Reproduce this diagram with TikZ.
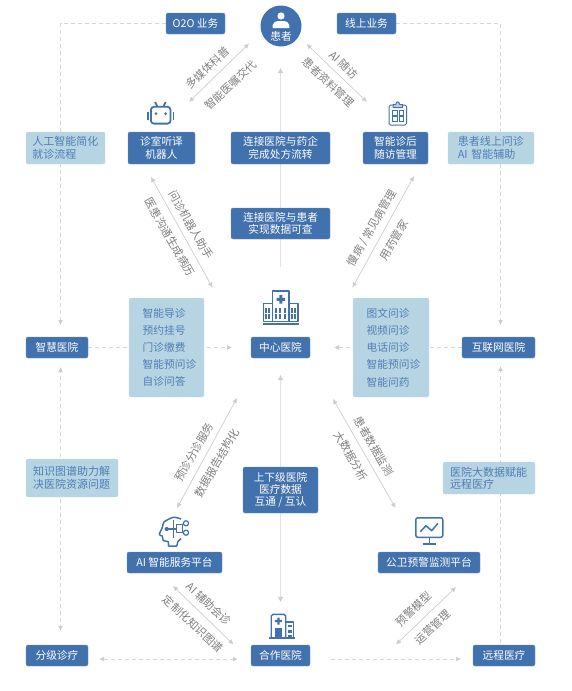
\documentclass[tikz,border=0pt]{standalone}
\usepackage{fontspec}
\setmainfont{Noto Sans CJK SC}
\usetikzlibrary{arrows.meta,backgrounds}
\definecolor{boxblue}{HTML}{4272AE}
\definecolor{boxlight}{HTML}{B6D4E2}
\definecolor{textblue}{HTML}{4F7EB6}
\definecolor{tagtext}{HTML}{7F7F7F}
\definecolor{linkgrey}{HTML}{CDCDCD}
\definecolor{dashgrey}{HTML}{D6D6D6}
\definecolor{trunkgrey}{HTML}{E2E2E2}
\tikzset{
  basefont/.style={font=\fontsize{10.7}{12.4}\selectfont},
  widefont/.style={font=\fontsize{11}{12.4}\selectfont},
  bluebox/.style={basefont,fill=boxblue,draw=boxblue!80!white,line width=0.4pt,
    rounded corners=2pt,text=white,align=center,inner sep=0pt},
  lightbox/.style={widefont,fill=boxlight,draw=boxlight!80!white,line width=0.4pt,
    rounded corners=2pt,text=textblue,align=left,inner ysep=0pt},
  listtext/.style={font=\fontsize{10.7}{17.2}\selectfont,text=textblue,align=left,
    inner sep=0pt,anchor=west},
  tagtext/.style={widefont,text=tagtext,inner sep=0pt},
  link/.style={linkgrey,line width=0.7pt,{Latex[length=5pt,width=5pt]}-{Latex[length=5pt,width=5pt]}},
  dashlink/.style={dashgrey,line width=0.8pt,dash pattern=on 4pt off 3pt,
    -{Latex[length=5pt,width=5pt,color=linkgrey]}},
  trunk/.style={trunkgrey,line width=1.6pt,-{Latex[length=5pt,width=6pt,color=linkgrey]}},
  iconline/.style={boxblue,line width=1.4pt,line join=round},
}
\begin{document}
\begin{tikzpicture}[x=1pt,y=-1pt]
  \useasboundingbox (0,0) rectangle (572,691);
  % top row
  \node[circle,fill=boxblue,minimum size=41pt,inner sep=0pt] (patient) at (281,26) {};
  \node[basefont,text=white,inner sep=0pt] (patientname) at (281,36) {患者};
  \node[bluebox,minimum width=59pt,minimum height=21pt] (otwoo) at (195.5,23.5) {O2O 业务};
  \node[bluebox,minimum width=59pt,minimum height=21pt] (online) at (366.5,23.5) {线上业务};
  % second row
  \node[lightbox,text width=66.5pt,inner xsep=6.25pt,minimum height=32pt] (aisimple) at (65.5,148) {人工智能简化\\就诊流程};
  \node[bluebox,minimum width=67pt,minimum height=32pt] (robot) at (161.5,148) {诊室听译\\机器人};
  \node[bluebox,minimum width=99pt,minimum height=32pt] (pharma) at (280.5,148) {连接医院与药企\\完成处方流转};
  \node[bluebox,minimum width=65pt,minimum height=32pt] (followup) at (395.5,148) {智能诊后\\随访管理};
  \node[lightbox,text width=66.5pt,inner xsep=9.75pt,minimum height=32pt] (aionline) at (491,148) {患者线上问诊\\AI 智能辅助};
  \node[bluebox,minimum width=99pt,minimum height=31pt] (datacheck) at (280.5,223.5) {连接医院与患者\\实现数据可查};
  % middle row
  \node[bluebox,minimum width=62pt,minimum height=21pt] (smart) at (57,347.5) {智慧医院};
  \node[bluebox,minimum width=59pt,minimum height=21pt] (central) at (280.5,347.5) {中心医院};
  \node[bluebox,minimum width=73pt,minimum height=21pt] (internet) at (498.5,347.5) {互联网医院};
  \node[lightbox,minimum width=75pt,minimum height=99pt] (listl) at (166.5,347.5) {};
  \node[lightbox,minimum width=76pt,minimum height=99pt] (listr) at (391,347.5) {};
  \node[listtext] (listltext) at (142.5,347.5) {智能导诊\\预约挂号\\门诊缴费\\智能预问诊\\自诊问答};
  \node[listtext] (listrtext) at (366.5,347.5) {图文问诊\\视频问诊\\电话问诊\\智能预问诊\\智能问药};
  % lower rows
  \node[lightbox,text width=78pt,inner xsep=7pt,minimum height=38pt] (graph) at (72,478) {知识图谱助力解\\决医院资源问题};
  \node[bluebox,minimum width=75pt,minimum height=46pt] (updown) at (280.5,490) {上下级医院\\医疗数据\\互通 / 互认};
  \node[lightbox,text width=78pt,inner xsep=7pt,minimum height=32pt] (bigdata) at (489,478) {医院大数据赋能\\远程医疗};
  \node[bluebox,minimum width=95pt,minimum height=21pt] (aiplat) at (174.5,562.5) {AI 智能服务平台};
  \node[bluebox,minimum width=102pt,minimum height=21pt] (warnplat) at (429,562.5) {公卫预警监测平台};
  \node[bluebox,minimum width=62pt,minimum height=21pt] (tiered) at (57,655.5) {分级诊疗};
  \node[bluebox,minimum width=59pt,minimum height=21pt] (partner) at (280.5,655.5) {合作医院};
  \node[bluebox,minimum width=62pt,minimum height=21pt] (remote) at (504,655.5) {远程医疗};
  % free ends
  \coordinate (smartin) at (60.5,325); \coordinate (smartlow) at (60.5,367);
  \coordinate (netin) at (500.5,325); \coordinate (netlow) at (500.5,366);
  \coordinate (graphmid) at (60.5,478); \coordinate (tieredin) at (60.5,631);
  \coordinate (bigmid) at (500.5,478); \coordinate (remotein) at (500.5,645);
  \coordinate (centralinl) at (232,347.5); \coordinate (centralinr) at (334,347.5);
  \coordinate (tieredout) at (99,659); \coordinate (partnerinl) at (238,659);
  \coordinate (partnerout) at (331,659); \coordinate (remoteinl) at (461,659);
  \coordinate (trunktop) at (280.5,68); \coordinate (trunkstart) at (280.5,267);
  \coordinate (trunklow) at (280.5,375); \coordinate (trunkend) at (280.5,602);
  \begin{pgfonlayer}{background}
    \draw[dashlink] (otwoo.west) -| (smartin);
    \draw[dashlink] (online.east) -| (netin);
    \draw[dashlink] (graphmid) -- (smartlow);
    \draw[dashlink] (graphmid) -- (tieredin);
    \draw[dashlink] (bigmid) -- (netlow);
    \draw[dashlink,-] (bigmid) -- (remotein);
    \draw[dashlink] (smart.east) -- (centralinl);
    \draw[dashlink] (internet.west) -- (centralinr);
    \draw[dashlink,{Latex[length=5pt,width=5pt,color=linkgrey]}-{Latex[length=5pt,width=5pt,color=linkgrey]}] (tieredout) -- (partnerinl);
    \draw[dashlink] (partnerout) -- (remoteinl);
    \draw[trunk] (trunkstart) -- (trunktop);
    \draw[trunk,{Latex[length=5pt,width=6pt,color=linkgrey]}-{Latex[length=5pt,width=6pt,color=linkgrey]}] (trunklow) -- (trunkend);
  \end{pgfonlayer}
  % diagonal links
  \foreach \nm/\xa/\ya/\xb/\yb in {pr/249/43.5/189/102,pf/306.5/44/367/102,
      rc/151/177/212.5/287.5,fc/414/176/352.5/287.5,
      ac/237/398/177/508,wc/333/399/395.5/508,
      ap/173/586/233.5/644.5,wp/456/587/396/644.5} {
    \coordinate (\nm a) at (\xa,\ya); \coordinate (\nm b) at (\xb,\yb);
    \draw[link] (\nm a) -- (\nm b); }
  % tags on the links
  \foreach \nm/\x/\y/\a/\t in {
      taga/208/68/43/多媒体科普,tagb/231/85/43/智能医嘱交代,
      tagc/344/65/-43/AI 随访,tagd/328/82/-43/患者资料管理,
      tage/191/225/-60/问诊机器人助手,tagf/170/237/-60/医患沟通生成病历,
      tagg/372/228/60/{慢病 / 常见病管理},tagh/394/240/60/用药管家,
      tagi/374/446/-60/患者数据监测,tagj/351/456/-60/大数据分析,
      tagk/194/452/60/预诊分诊服务,tagl/217/463/60/数据报告结构化,
      tagm/209/604/-43/AI 辅助会诊,tagn/193/624/-43/定制化知识图谱,
      tago/414/609/43/预警模型,tagp/433/627/43/运营管理} {
    \node[tagtext,rotate=\a] (\nm) at (\x,\y) {\t}; }
  % patient icon
  \fill[white] (281,16) circle (3.6pt);
  \fill[white] (272.7,28) -- (272.7,25) .. controls (273,22) and (276,21.5) .. (278,21)
    -- (284,21) .. controls (286,21.5) and (289,22) .. (289.3,25) -- (289.3,28) -- cycle;
  % robot icon
  \draw[iconline,line width=1.8pt,rounded corners=3pt] (150.9,106.8) rectangle (170.5,123.6);
  \draw[iconline,line width=1.8pt] (148,112) -- (148,120) (173.4,112) -- (173.4,120);
  \draw[iconline,line width=1.8pt] (155,102) -- (157.3,106.5) (165.7,102) -- (163.4,106.5);
  \fill[boxblue] (156,113.7) circle (1.5pt) (165.7,113.7) circle (1.5pt);
  % clipboard icon
  \draw[iconline,line width=1pt,rounded corners=1.5pt] (389,105) rectangle (406.5,125);
  \draw[iconline,line width=1pt,fill=boxblue!35!white] (393,107.5) -- (393,104.5) -- (395.8,104.5)
    .. controls (396,101) and (399.4,101) .. (399.6,104.5) -- (402.5,104.5) -- (402.5,107.5) -- cycle;
  \foreach \x in {392.7,398.8} \foreach \y in {110.7,116.5}
    \draw[boxblue,line width=0.6pt] (\x,\y) rectangle ++(4.5,4.4);
  % central hospital icon
  \draw[iconline,fill=white] (263.4,303.7) rectangle (298,321.7);
  \draw[iconline,fill=white] (272.6,291) rectangle (289,321.7);
  \fill[boxblue] (262.7,322.8) rectangle (298.7,325);
  \fill[boxblue] (279.3,295) rectangle (282.3,303.5) (276.6,297.8) rectangle (285,300.8);
  \foreach \x in {265,268.3,275,279.4,283.8,291,294.3} \foreach \y in {307.5,314}
    \fill[boxblue] (\x,\y) rectangle ++(2,5);
  % head icon
  \draw[iconline,line width=1.5pt] plot[smooth] coordinates {(168.3,546) (168.3,541.7) (163.3,540.5) (162.3,536)
    (159.3,534.5) (162.5,527) (164,522) (173.3,517.3) (181,519)};
  \draw[iconline,line width=1.5pt] (181,538.5) .. controls (178,540) and (177,543) .. (176.7,546) -- (168.3,546);
  \draw[iconline,line width=1.2pt] (176.7,524.3) rectangle (182.7,532.7);
  \draw[iconline,line width=1.2pt] (166.7,529) -- (176.7,529) (173.5,520) -- (173.5,538);
  \fill[boxblue] (166.7,529) circle (2.1pt);
  \draw[iconline,line width=1.2pt] (186,523.3) circle (2.6pt) (186,532.7) circle (2.6pt)
    (182.7,524.3) -- (183.5,524) (182.7,532.7) -- (183.4,532.7);
  % monitor icon
  \draw[iconline,line width=1.5pt,rounded corners=2pt] (415.8,517.8) rectangle (442.8,537.3);
  \draw[iconline,line width=1.5pt] (429.3,537.3) -- (429.3,544) (422.7,544.2) -- (436,544.2);
  \draw[iconline,line width=1.5pt] (420.3,531.7) -- (426,525.7) -- (431.7,530.7) -- (438,523.3);
  % partner hospital icon
  \draw[iconline] (271.2,638) -- (271.2,616) -- (273,614.3) -- (284,614.3) -- (285.7,616) -- (285.7,638);
  \draw[iconline] (285.7,622) -- (293.7,622) -- (293.7,638);
  \fill[boxblue] (269,637.3) rectangle (294.7,638.8);
  \fill[boxblue] (277.3,617.5) rectangle (279.5,624.5) (274.9,619.9) rectangle (281.9,622.1);
  \fill[boxblue] (275,628.3) rectangle (282.3,638);
  \foreach \y in {624.5,629.7,634.5}
    \fill[boxblue] (288,\y) rectangle ++(3.6,2.8);
\end{tikzpicture}
\end{document}
